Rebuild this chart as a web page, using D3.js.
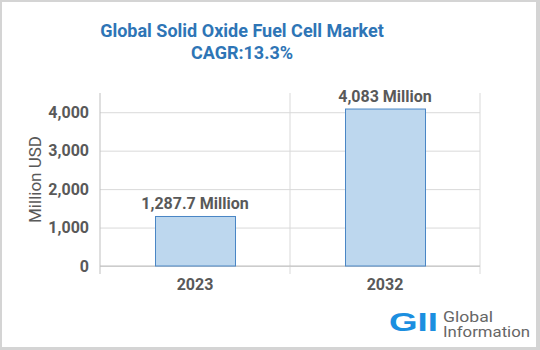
<!DOCTYPE html>
<html>
<head>
<meta charset="utf-8">
<script src="https://cdn.jsdelivr.net/npm/d3@7"></script>
<style>
  html, body { margin: 0; padding: 0; background: #fff; }
  svg { display: block; }
</style>
</head>
<body>
<svg id="chart" width="540" height="350"></svg>
<script>
// Market size data
const categories = ["2023", "2032"];
const values = [1287.7, 4083];
const valueLabels = ["1,287.7 Million", "4,083 Million"];
const yTicks = [0, 1000, 2000, 3000, 4000];
const titleLines = ["Global Solid Oxide Fuel Cell Market", "CAGR:13.3%"];

const svg = d3.select("#chart");
const FONT = "Roboto, 'Liberation Sans', Arial, sans-serif";
const TEXT_GREY = "#595959";

// Frame
svg.append("rect").attr("x", 0).attr("y", 0).attr("width", 540).attr("height", 350).attr("fill", "#d4d4d4");
svg.append("rect").attr("x", 2).attr("y", 2).attr("width", 534).attr("height", 345).attr("fill", "#ffffff");

const plot = { left: 100, right: 480, top: 93, bottom: 266 };

const x = d3.scaleBand().domain(categories).range([plot.left, plot.right]).padding(0);
const y = d3.scaleLinear().domain([0, 4500]).range([plot.bottom, plot.top]);

// Horizontal gridlines
svg.append("g")
  .attr("transform", `translate(${plot.left},0)`)
  .call(d3.axisLeft(y).tickValues(yTicks).tickSize(-(plot.right - plot.left)).tickFormat(""))
  .call(g => g.select(".domain").remove())
  .call(g => g.selectAll(".tick line").attr("stroke", "#d9d9d9").attr("stroke-width", 1));

// Vertical separators between categories (extend below the baseline)
const seps = [plot.left, ...categories.map(c => x(c) + x.bandwidth())];
svg.append("g").selectAll("line").data(seps).join("line")
  .attr("x1", d => d).attr("x2", d => d)
  .attr("y1", plot.top).attr("y2", plot.bottom + 8)
  .attr("stroke", d => d === plot.left ? "#bfbfbf" : "#d9d9d9")
  .attr("stroke-width", 1);

// Baseline
svg.append("line")
  .attr("x1", plot.left).attr("x2", plot.right)
  .attr("y1", y(0)).attr("y2", y(0))
  .attr("stroke", "#bfbfbf").attr("stroke-width", 1);

// Y tick labels
svg.append("g")
  .attr("transform", `translate(${plot.left},0)`)
  .call(d3.axisLeft(y).tickValues(yTicks).tickSize(0).tickPadding(11).tickFormat(d3.format(",")))
  .call(g => g.select(".domain").remove())
  .call(g => g.selectAll("text")
    .attr("fill", TEXT_GREY).attr("font-family", FONT)
    .attr("font-size", 16).attr("font-weight", "bold"));

// X tick labels
svg.append("g")
  .attr("transform", `translate(0,${plot.bottom})`)
  .call(d3.axisBottom(x).tickSize(0).tickPadding(13))
  .call(g => g.select(".domain").remove())
  .call(g => g.selectAll("text")
    .attr("fill", TEXT_GREY).attr("font-family", FONT)
    .attr("font-size", 16).attr("font-weight", "bold"));

// Bars
const barW = x.bandwidth() * 0.421;
svg.append("g").selectAll("rect").data(values).join("rect")
  .attr("x", (d, i) => x(categories[i]) + (x.bandwidth() - barW) / 2 + 0.5)
  .attr("y", d => y(d))
  .attr("width", barW)
  .attr("height", d => y(0) - y(d))
  .attr("fill", "#bdd7ee")
  .attr("stroke", "#4a86c5")
  .attr("stroke-width", 1);

// Value labels
svg.append("g").selectAll("text").data(values).join("text")
  .attr("x", (d, i) => x(categories[i]) + x.bandwidth() / 2)
  .attr("y", d => y(d) - 7)
  .attr("text-anchor", "middle")
  .attr("fill", TEXT_GREY).attr("font-family", FONT)
  .attr("font-size", 16).attr("font-weight", "bold")
  .text((d, i) => valueLabels[i]);

// Y axis title
svg.append("text")
  .attr("transform", `translate(41,${(plot.top + plot.bottom) / 2}) rotate(-90)`)
  .attr("text-anchor", "middle")
  .attr("fill", TEXT_GREY).attr("font-family", FONT)
  .attr("font-size", 17)
  .text("Million USD");

// Title
svg.append("g").selectAll("text").data(titleLines).join("text")
  .attr("x", 242)
  .attr("y", (d, i) => 37 + i * 22)
  .attr("text-anchor", "middle")
  .attr("fill", "#2e75b6").attr("font-family", FONT)
  .attr("font-size", 18).attr("font-weight", "bold")
  .text(d => d);

// Logo
const logo = svg.append("g");
logo.append("text")
  .attr("x", 389).attr("y", 331)
  .attr("fill", "#1c8fe0").attr("font-family", "'Liberation Sans', Arial, sans-serif")
  .attr("font-size", 26).attr("font-weight", "bold")
  .attr("textLength", 49).attr("lengthAdjust", "spacingAndGlyphs")
  .text("GII");
const brand = logo.append("text")
  .attr("fill", "#666666").attr("font-family", FONT)
  .attr("font-size", 14);
brand.append("tspan").attr("x", 443).attr("y", 322)
  .attr("textLength", 50).attr("lengthAdjust", "spacingAndGlyphs").text("Global");
brand.append("tspan").attr("x", 443).attr("y", 337)
  .attr("textLength", 87).attr("lengthAdjust", "spacingAndGlyphs").text("Information");
</script>
</body>
</html>
